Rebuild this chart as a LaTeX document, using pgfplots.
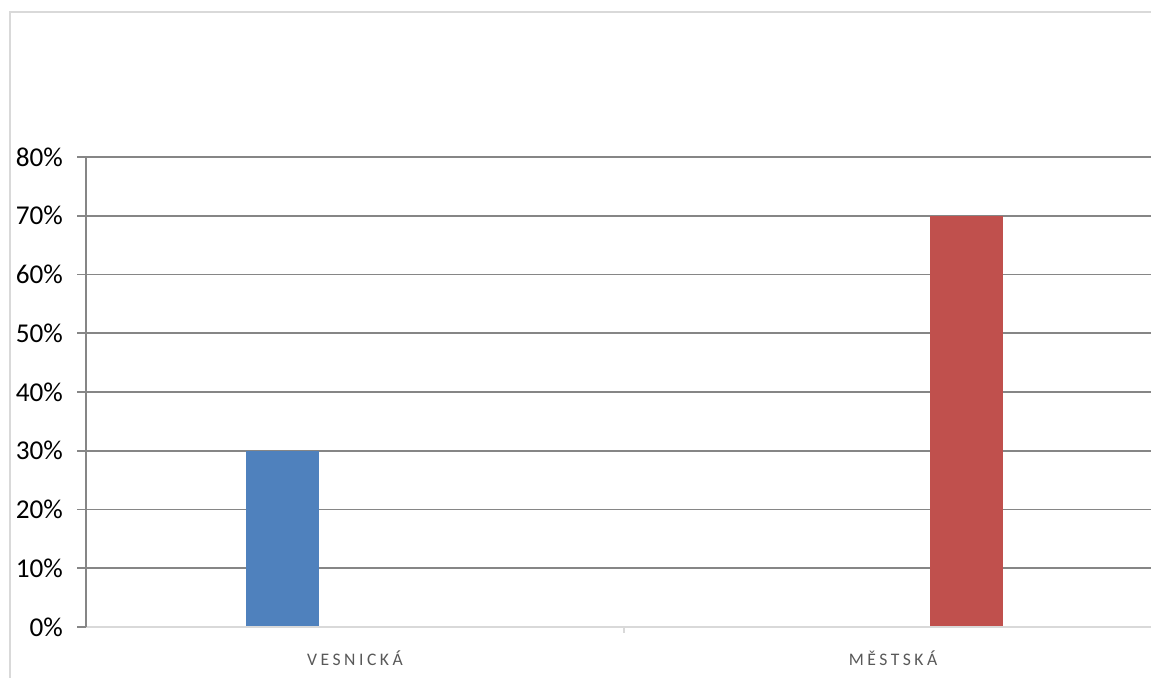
\documentclass[border=0pt]{standalone}
\usepackage{fontspec}
\setmainfont{Carlito}
\usepackage{pgfplots}
\pgfplotsset{compat=1.18}
\definecolor{barblue}{HTML}{4F81BD}
\definecolor{barred}{HTML}{C0504D}
\definecolor{gridgray}{HTML}{868686}
\definecolor{lightgray}{HTML}{D9D9D9}
\definecolor{labgray}{HTML}{595959}
\newfontfamily\catfont[LetterSpace=20]{Carlito}
\begin{document}
\begin{tikzpicture}[x=0.5pt,y=0.5pt]
\clip (0,0) rectangle (1151,678);
\fill[white] (0,0) rectangle (1151,678);
\draw[lightgray, line width=1pt] (10,0) -- (10,666) -- (1151,666);
\begin{axis}[
  at={(43pt,25.5pt)}, anchor=south west,
  scale only axis, width=538pt, height=235pt,
  xmin=-0.5, xmax=1.5, ymin=0, ymax=80,
  ytick={0,10,...,80},
  yticklabel={\pgfmathprintnumber{\tick}\%},
  yticklabel style={font=\fontsize{13.6pt}{15pt}\selectfont, text=black, xshift=-3.5pt},
  /pgf/number format/assume math mode=true,
  xtick={0,1},
  xticklabels={VESNICKÁ,MĚSTSKÁ},
  xticklabel style={font=\catfont\fontsize{8.8pt}{10pt}\selectfont, text=labgray, yshift=-4pt},
  major x tick style={draw=none},
  ymajorgrids, grid style={gridgray, line width=0.8pt},
  tick align=outside, major tick length=4.5pt,
  ytick style={draw=gridgray, line width=0.8pt},
  axis line style={draw=none},
  axis x line*=bottom, axis y line*=left,
  clip=false,
  ybar, bar width=36.5pt,
]
\addplot[fill=barblue, draw=none, bar shift=-36.5pt] coordinates {(0,30)};
\addplot[fill=barred, draw=none, bar shift=36.5pt] coordinates {(1,70)};
\draw[lightgray, line width=1pt] (axis cs:-0.5,0) -- (axis cs:1.5,0);
\draw[lightgray, line width=1pt] (axis cs:0.5,0) -- ([yshift=-3pt]axis cs:0.5,0);
\draw[gridgray, line width=0.8pt] (axis cs:-0.5,0) -- (axis cs:-0.5,80);
\end{axis}
\end{tikzpicture}
\end{document}
